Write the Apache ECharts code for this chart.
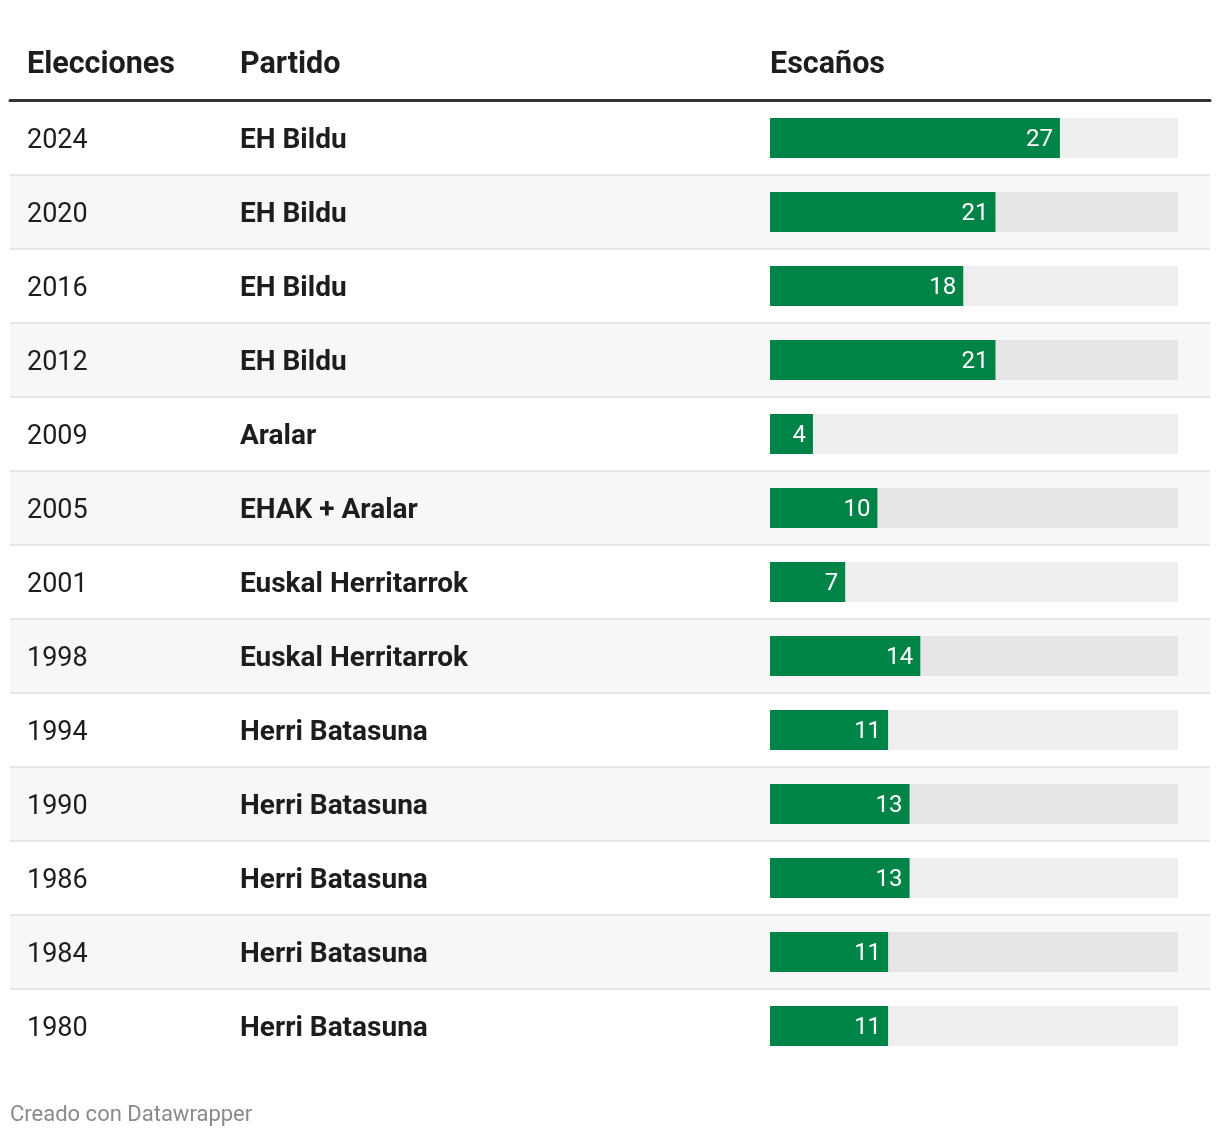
<!DOCTYPE html>
<html><head><meta charset="utf-8">
<script src="https://cdn.jsdelivr.net/npm/echarts@6/dist/echarts.min.js"></script>
<style>html,body{margin:0;padding:0;background:#fff}#c{width:1220px;height:1138px}</style>
</head><body><div id="c"></div>
<script>
const elecciones = ['2024','2020','2016','2012','2009','2005','2001','1998','1994','1990','1986','1984','1980'];
const partidos = ['EH Bildu','EH Bildu','EH Bildu','EH Bildu','Aralar','EHAK + Aralar','Euskal Herritarrok','Euskal Herritarrok','Herri Batasuna','Herri Batasuna','Herri Batasuna','Herri Batasuna','Herri Batasuna'];
const escanos = [27,21,18,21,4,10,7,14,11,13,13,11,11];
const encabezados = ['Elecciones','Partido','Escaños'];
const pie = 'Creado con Datawrapper';
const escanosMax = 38;

const FONT = 'Roboto, "Noto Sans", sans-serif';
const chart = echarts.init(document.getElementById('c'), null, {renderer:'canvas'});
chart.setOption({
  animation:false,
  backgroundColor:'#ffffff',
  textStyle:{fontFamily:FONT},
  grid:[
    {left:10, right:10, top:101, height:962},
    {left:770, right:42, top:101, height:962}
  ],
  xAxis:[
    {gridIndex:0, type:'value', min:0, max:1, position:'top', offset:1,
     axisLine:{show:true, lineStyle:{color:'#333333', width:3}},
     axisTick:{show:false}, axisLabel:{show:false}, splitLine:{show:false}},
    {gridIndex:1, type:'value', min:0, max:escanosMax, show:false}
  ],
  yAxis:[
    {gridIndex:0, type:'category', data:elecciones, inverse:true,
     axisLine:{show:false}, axisTick:{show:false},
     axisLabel:{inside:true, margin:17, color:'#1d1d1d', fontFamily:FONT, verticalAlign:'middle', padding:[6,0,0,0],
       formatter:function(v, i){ return '{y|'+v+'}{p|'+partidos[i]+'}'; },
       rich:{
         y:{width:213, fontSize:27, color:'#1d1d1d', fontFamily:FONT},
         p:{fontSize:28, fontWeight:'bold', color:'#1d1d1d', fontFamily:FONT}
       }},
     splitLine:{show:true, showMinLine:false, showMaxLine:false, lineStyle:{color:'#e6e6e6', width:2}},
     splitArea:{show:true, areaStyle:{color:['#ffffff','#f7f7f7']}}
    },
    {gridIndex:1, type:'category', data:elecciones, inverse:true, show:false}
  ],
  series:[{
    type:'bar', xAxisIndex:1, yAxisIndex:1, data:escanos, barWidth:40,
    itemStyle:{color:'#008347'},
    showBackground:true,
    backgroundStyle:{color:'rgba(0,0,0,0.066)'},
    label:{show:true, position:'insideRight', distance:7, offset:[0,2], color:'#ffffff', fontSize:24, fontFamily:FONT}
  }],
  graphic:[
    {type:'text', x:27, y:65, style:{text:encabezados[0], font:'bold 30.5px '+FONT, fill:'#1d1d1d', verticalAlign:'middle'}},
    {type:'text', x:240, y:65, style:{text:encabezados[1], font:'bold 30.5px '+FONT, fill:'#1d1d1d', verticalAlign:'middle'}},
    {type:'text', x:770, y:65, style:{text:encabezados[2], font:'bold 30.5px '+FONT, fill:'#1d1d1d', verticalAlign:'middle'}},
    {type:'text', x:10, y:1115, style:{text:pie, font:'22px '+FONT, fill:'#8a8a8a', verticalAlign:'middle'}}
  ]
});
</script></body></html>
